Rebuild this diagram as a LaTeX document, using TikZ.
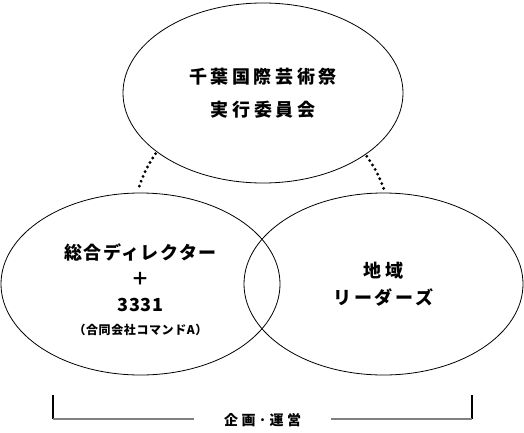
\documentclass[tikz,border=0pt]{standalone}
\usepackage{fontspec}
\newfontfamily\jpfont{Noto Sans CJK JP}
\usetikzlibrary{shapes.geometric}
\tikzset{
  circ/.style={ellipse, draw, line width=0.8pt, inner sep=0pt},
  title/.style={align=center, font=\jpfont\bfseries\fontsize{18}{#1}\selectfont},
  dots/.style={line width=3.2pt, line cap=round, dash pattern=on 0pt off 5.2pt},
}
\begin{document}
\begin{tikzpicture}[x=1pt, y=1pt]
    \useasboundingbox (0,0) rectangle (524,432);
    \node[circ, minimum width=280pt, minimum height=180pt] (committee) at (263,339) {};
    \node[circ, minimum width=279pt, minimum height=182pt] (director) at (140.5,148) {};
    \node[circ, minimum width=279pt, minimum height=182pt] (leaders) at (383.5,148) {};
    \node[title=33] (committee text) at (committee) {\addfontfeature{LetterSpace=20}千葉国際芸術祭\\\addfontfeature{LetterSpace=20}実行委員会};
    \node[title=26] (director text) at ([yshift=-6pt]director.center) {\addfontfeature{LetterSpace=8}総合ディレクター\\＋\\\addfontfeature{LetterSpace=5}3331\\[-3pt]{\fontsize{12}{14}\selectfont\addfontfeature{LetterSpace=5}（合同会社コマンドA）}};
    \node[title=27] (leaders text) at (leaders) {\addfontfeature{LetterSpace=20}地域\\\addfontfeature{LetterSpace=15}リーダーズ};
    \draw[dots, shorten <=2pt, shorten >=4pt] (committee.209.7) to[bend right=8] (director.92);
    \draw[dots, shorten <=2pt, shorten >=4pt] (committee.329.4) to[bend left=8] (leaders.89);
    % bracket
    \node[font=\jpfont\bfseries\fontsize{14}{16}\selectfont, inner xsep=30pt] (plan) at (262.5,12) {\addfontfeature{LetterSpace=25}企画･運営};
    \coordinate (plan left top) at (53,37);
    \coordinate (plan left) at (53,13);
    \coordinate (plan right top) at (472,37);
    \coordinate (plan right) at (472,13);
    \draw[line width=1.2pt] (plan left top) -- (plan left);
    \draw[line width=1.2pt] (plan right top) -- (plan right);
    \draw[gray, line width=2pt] (plan left) -- (plan left -| plan.west);
    \draw[gray, line width=2pt] (plan right) -- (plan right -| plan.east);
\end{tikzpicture}
\end{document}
